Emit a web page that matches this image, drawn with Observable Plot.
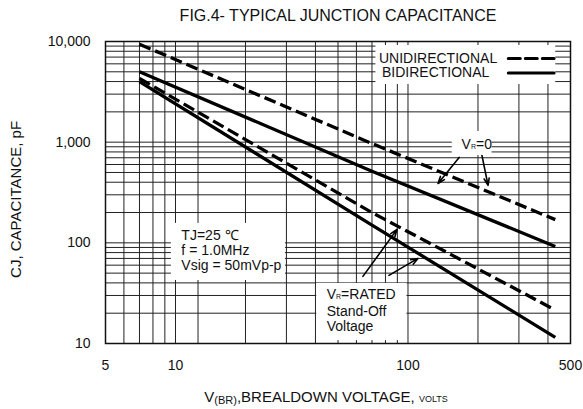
<!DOCTYPE html>
<html><head><meta charset="utf-8">
<script src="https://cdn.jsdelivr.net/npm/d3@7"></script>
<script src="https://cdn.jsdelivr.net/npm/@observablehq/plot@0.6"></script>
<style>
body{margin:0;background:#fff;}
#chart svg{display:block;}
</style></head><body><div id="chart"></div>
<script>
// ---- data ----
const voltPts   = [7, 70, 430];           // V(BR), volts
const uniZero   = [9400, 970, 170];       // unidirectional, VR=0
const biZero    = [5000, 514, 92];        // bidirectional, VR=0
const uniRated  = [4300, 200, 21.5];      // unidirectional, VR=rated
const biRated   = [4000, 150, 11.5];      // bidirectional, VR=rated

const xTicks = [5, 10, 100, 500];
const yTicks = [10, 100, 1000, 10000];
const xGrid = [6,7,8,9,10,12.5,20,30,40,50,60,70,80,90,100,200,300,400];
const yGrid = [20,30,40,50,60,70,80,90,100,200,300,400,500,600,700,800,900,1000,2000,3000,4000,5000,6000,7000,8000,9000];

// white label boxes (data units)
const boxX1 = [72.8, 9.6, 155, 40.5];
const boxX2 = [432, 29.7, 230, 99];
const boxY1 = [3741, 42.3, 738, 10.7];
const boxY2 = [9124, 156, 1277, 39.5];

// annotation texts
const noteText = ["UNIDIRECTIONAL","BIDIRECTIONAL","TJ=25 ℃","f = 1.0MHz","Vsig = 50mVp-p","V_R=0","V_R=RATED","Stand-Off","Voltage"];
const noteX = [75, 77.3, 10.6, 10.6, 10.6, 170, 44.7, 44.7, 44.7];
const noteY = [6780, 4865, 118.4, 84, 59.7, 949, 30.7, 21, 14.6];

// legend samples
const legX1 = [270, 270];
const legX2 = [425, 425];
const legY  = [6780, 4865];
const legDash = ["12,5", null];

// arrows
const arrX1 = [64, 82.8, 166, 208];
const arrY1 = [46.4, 47.5, 705, 738];
const arrX2 = [89.7, 110.4, 134.6, 221];
const arrY2 = [136, 70, 389, 372];

// titles
const titleText = "FIG.4- TYPICAL JUNCTION CAPACITANCE";
const yTitle = "CJ, CAPACITANCE, pF";
const xTitle = "V(BR),BREALDOWN VOLTAGE, VOLTS";

const mk = (c) => voltPts.map((v,i)=>({v, c:c[i]}));
const series = [
  {data: mk(uniZero), dash: "12,5"},
  {data: mk(biZero), dash: null},
  {data: mk(uniRated), dash: "12,5"},
  {data: mk(biRated), dash: null}
];
const boxes = boxX1.map((d,i)=>({x1:d,x2:boxX2[i],y1:boxY1[i],y2:boxY2[i]}));
const notes = noteText.map((t,i)=>({t,x:noteX[i],y:noteY[i]}));
const arrows = arrX1.map((d,i)=>({x1:d,y1:arrY1[i],x2:arrX2[i],y2:arrY2[i]}));

const FONT = "'Liberation Sans', Arial, sans-serif";

const plot = Plot.plot({
  width: 583, height: 409,
  marginTop: 41, marginBottom: 66, marginLeft: 105, marginRight: 13,
  style: {fontFamily: FONT, fontSize: "14px", color: "#111", background: "#fff"},
  x: {type: "log", domain: [5, 500], ticks: xTicks, tickFormat: d => String(d), tickSize: 0, tickPadding: 17, label: null},
  y: {type: "log", domain: [10, 10000], ticks: yTicks, tickFormat: d3.format(","), tickSize: 0, tickPadding: 15, label: null},
  marks: [
    Plot.ruleX(xGrid, {stroke: "#222", strokeWidth: 1}),
    Plot.ruleY(yGrid, {stroke: "#222", strokeWidth: 1}),
    Plot.rect(boxes, {x1:"x1", x2:"x2", y1:"y1", y2:"y2", fill: "white"}),
    Plot.frame({stroke: "#111", strokeWidth: 1.5}),
    ...series.map(s => Plot.line(s.data, {x: "v", y: "c", stroke: "#000", strokeWidth: 3.3, strokeDasharray: s.dash, strokeLinecap: "butt"})),
    ...legY.map((y,i) => Plot.line([{v:legX1[i],c:y},{v:legX2[i],c:y}], {x:"v", y:"c", stroke:"#000", strokeWidth: 3, strokeDasharray: legDash[i]})),
    Plot.arrow(arrows, {x1:"x1", y1:"y1", x2:"x2", y2:"y2", stroke:"#000", strokeWidth: 1.6, headLength: 7, headAngle: 40, bend: false}),
    Plot.text(notes, {x:"x", y:"y", text:"t", textAnchor:"start", lineAnchor:"middle", fill:"#111", fontSize: 14}),
    Plot.text([titleText], {frameAnchor:"top", lineAnchor:"middle", textAnchor:"middle", dy:-26, fontSize: 16, fill:"#111", letterSpacing: "0.6px"}),
    Plot.text([{t: yTitle, x: 2.06, y: 270}], {x:"x", y:"y", text:"t", lineAnchor:"middle", textAnchor:"middle", rotate:-90, fontSize: 15, fill:"#111", letterSpacing: "1px"}),
    Plot.text([xTitle], {frameAnchor:"bottom", lineAnchor:"middle", textAnchor:"middle", dx:-12, dy:54, fontSize: 15, fill:"#111", letterSpacing: "1.3px"})
  ]
});

// rich text (subscripts / small caps)
const rich = {
  "V_R=0": [["V"],["R","7px"],["=0"]],
  "V_R=RATED": [["V"],["R","7px"],["=RATED"]],
  "V(BR),BREALDOWN VOLTAGE, VOLTS": [["V"],["(BR)","11px","2"],[",BREALDOWN VOLTAGE, ",null,"-2"],["VOLTS","9px"]]
};
const NS = "http://www.w3.org/2000/svg";
plot.querySelectorAll("text").forEach(el => {
  const parts = rich[el.textContent];
  if (!parts) return;
  el.textContent = "";
  parts.forEach(p => {
    const ts = document.createElementNS(NS, "tspan");
    ts.textContent = p[0];
    if (p[1]) ts.setAttribute("font-size", p[1]);
    if (p[2]) ts.setAttribute("dy", p[2]);
    el.appendChild(ts);
  });
});
document.getElementById("chart").appendChild(plot);
</script></body></html>
